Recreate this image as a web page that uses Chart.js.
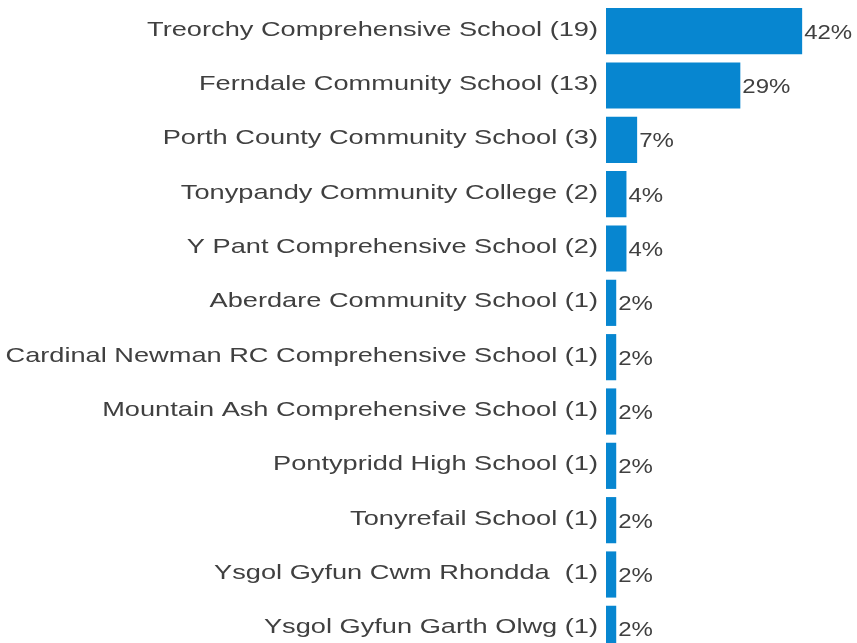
<!DOCTYPE html>
<html>
<head>
<meta charset="utf-8">
<script src="https://cdn.jsdelivr.net/npm/chart.js@4/dist/chart.umd.min.js"></script>
<style>
  html, body { margin: 0; padding: 0; background: #fff; overflow: hidden; }
  #wrap { position: relative; width: 857px; height: 656px; }
</style>
</head>
<body>
<div id="wrap"><canvas id="chart"></canvas></div>
<script>
// ─── data ────────────────────────────────────────────────────────────────────
const schools = [
  'Treorchy Comprehensive School (19)',
  'Ferndale Community School (13)',
  'Porth County Community School (3)',
  'Tonypandy Community College (2)',
  'Y Pant Comprehensive School (2)',
  'Aberdare Community School (1)',
  'Cardinal Newman RC Comprehensive School (1)',
  'Mountain Ash Comprehensive School (1)',
  'Pontypridd High School (1)',
  'Tonyrefail School (1)',
  'Ysgol Gyfun Cwm Rhondda  (1)',
  'Ysgol Gyfun Garth Olwg (1)',
];
const shares     = [42.2, 28.9, 6.7, 4.4, 4.4, 2.2, 2.2, 2.2, 2.2, 2.2, 2.2, 2.2];
const shareTexts = ['42%', '29%', '7%', '4%', '4%', '2%', '2%', '2%', '2%', '2%', '2%', '2%'];

const BAR_COLOR  = '#0786d0';
const TEXT_COLOR = '#404040';
const FONT       = '"Liberation Sans", Arial, sans-serif';

// labels are drawn by hand: the source image is stretched sideways
const labelPlugin = {
  id: 'labels',
  afterDatasetsDraw(chart) {
    const ctx = chart.ctx;
    const y = chart.scales.y;
    const left = chart.chartArea.left;
    ctx.save();
    ctx.fillStyle = TEXT_COLOR;
    ctx.textBaseline = 'alphabetic';

    // category labels, right-aligned left of the bars
    ctx.font = '21px ' + FONT;
    ctx.textAlign = 'right';
    schools.forEach((s, i) => {
      const py = y.getPixelForValue(i);
      ctx.save();
      ctx.translate(left - 8, py + 4.5);
      ctx.scale(1.295, 1);
      ctx.fillText(s, 0, 0);
      ctx.restore();
    });

    // value labels just past the bar end
    ctx.font = '20px ' + FONT;
    ctx.textAlign = 'left';
    chart.getDatasetMeta(0).data.forEach((bar, i) => {
      ctx.save();
      ctx.translate(bar.x + 2, bar.y + 7.5);
      ctx.scale(1.2, 1);
      ctx.fillText(shareTexts[i], 0, 0);
      ctx.restore();
    });
    ctx.restore();
  },
};

new Chart(document.getElementById('chart'), {
  type: 'bar',
  data: {
    labels: schools,
    datasets: [{
      data: shares,
      backgroundColor: BAR_COLOR,
      borderWidth: 0,
      barPercentage: 0.85,
      categoryPercentage: 1,
    }],
  },
  options: {
    indexAxis: 'y',
    responsive: true, maintainAspectRatio: false,
    animation: false,
    layout: { padding: { top: 4, right: 0, bottom: 0, left: 0 } },
    plugins: { legend: { display: false }, tooltip: { enabled: false } },
    scales: {
      x: { display: false, min: 0, max: 54 },
      y: {
        grid: { display: false }, border: { display: false },
        ticks: { display: false },
        afterFit: s => { s.width = 606; },
      },
    },
  },
  plugins: [labelPlugin],
});
</script>
</body>
</html>
